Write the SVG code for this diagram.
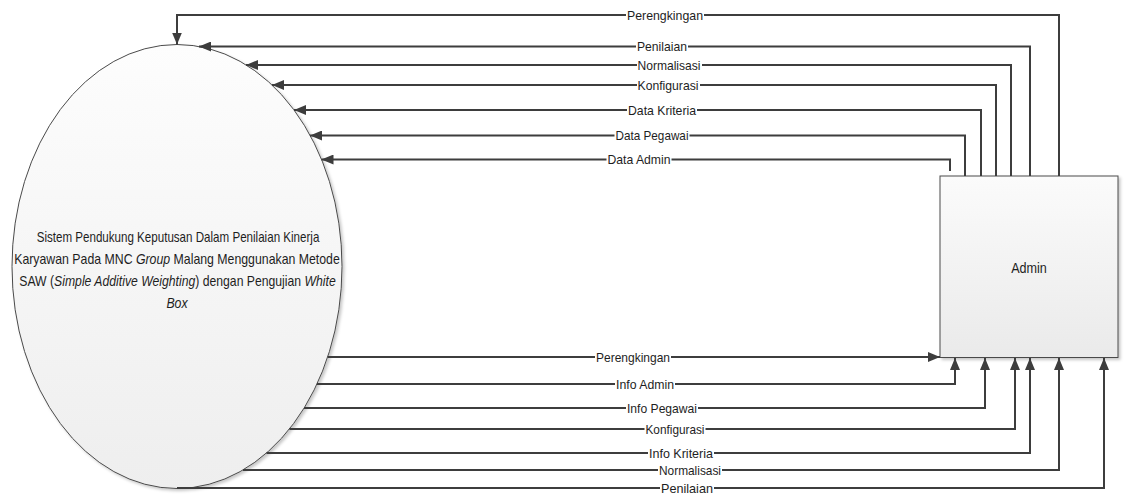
<svg xmlns="http://www.w3.org/2000/svg" width="1125" height="497" viewBox="0 0 1125 497">
  <style>
    .flow { fill: none; stroke: #3d3d3d; stroke-width: 2; }
    .lbl { font-family: "Liberation Sans", Arial, sans-serif; font-size: 13px; fill: #1e1e1e; text-anchor: middle; dominant-baseline: central; }
    .lbg { fill: #ffffff; }
    .ptxt { font-family: "Liberation Sans", Arial, sans-serif; font-size: 14px; fill: #1e1e1e; text-anchor: middle; }
    .it { font-style: italic; }
    .shape { stroke: #4a4a4a; stroke-width: 1; }
  </style>
  <defs>
    <linearGradient id="gProc" x1="0" y1="0" x2="0" y2="1">
      <stop offset="0" stop-color="#fdfdfd"/>
      <stop offset="1" stop-color="#eeeeee"/>
    </linearGradient>
    <linearGradient id="gEnt" x1="0" y1="0" x2="0" y2="1">
      <stop offset="0" stop-color="#fbfbfb"/>
      <stop offset="1" stop-color="#eaeaea"/>
    </linearGradient>
    <filter id="shadow" x="-5%" y="-5%" width="115%" height="115%">
      <feDropShadow dx="2" dy="2" stdDeviation="1.5" flood-color="#000" flood-opacity="0.22"/>
    </filter>
    <marker id="arrow" viewBox="0 0 12 10" refX="12" refY="5" markerWidth="12" markerHeight="10" markerUnits="userSpaceOnUse" orient="auto">
      <path d="M0,0 L12,5 L0,10 Z" fill="#3d3d3d"/>
    </marker>
  </defs>

  <!-- process bubble -->
  <g id="process">
    <ellipse class="shape" cx="177" cy="266.5" rx="165" ry="222" fill="url(#gProc)" filter="url(#shadow)"/>
    <text class="ptxt" transform="translate(178,242) scale(0.828,1)">Sistem Pendukung Keputusan Dalam Penilaian Kinerja</text>
    <text class="ptxt" transform="translate(177,264) scale(0.88,1)">Karyawan Pada MNC <tspan class="it">Group</tspan> Malang Menggunakan Metode</text>
    <text class="ptxt" transform="translate(177.5,286) scale(0.873,1)">SAW (<tspan class="it">Simple Additive Weighting</tspan>) dengan Pengujian <tspan class="it">White</tspan></text>
    <text class="ptxt it" transform="translate(177,307.5) scale(0.88,1)">Box</text>
  </g>

  <!-- external entity -->
  <g id="admin">
    <rect class="shape" x="940" y="176" width="178" height="181.5" fill="url(#gEnt)" filter="url(#shadow)"/>
    <text class="ptxt" transform="translate(1029,272.5) scale(0.9,1)">Admin</text>
  </g>

  <!-- data flows -->
  <g id="connectors">
    <!-- Admin to process -->
    <path class="flow" d="M1059,176 V15 H177 V44.5" marker-end="url(#arrow)"/>
    <path class="flow" d="M1030,176 V46.5 H199" marker-end="url(#arrow)"/>
    <path class="flow" d="M1011,176 V65 H246" marker-end="url(#arrow)"/>
    <path class="flow" d="M996,176 V85 H272" marker-end="url(#arrow)"/>
    <path class="flow" d="M981,176 V110 H294" marker-end="url(#arrow)"/>
    <path class="flow" d="M965,176 V135.5 H310" marker-end="url(#arrow)"/>
    <path class="flow" d="M950,171 V159.5 H321.5" marker-end="url(#arrow)"/>

    <!-- process to Admin -->
    <path class="flow" d="M327.7,357 H940" marker-end="url(#arrow)"/>
    <path class="flow" d="M317,384 H955 V358" marker-end="url(#arrow)"/>
    <path class="flow" d="M304,408 H985 V358" marker-end="url(#arrow)"/>
    <path class="flow" d="M289.4,429 H1015 V358" marker-end="url(#arrow)"/>
    <path class="flow" d="M266.5,453 H1030 V358" marker-end="url(#arrow)"/>
    <path class="flow" d="M243,470 H1059 V358" marker-end="url(#arrow)"/>
    <path class="flow" d="M177,488 H1104 V358" marker-end="url(#arrow)"/>

    <!-- flow labels -->
    <rect class="lbg" x="626" y="8" width="78" height="14"/>
    <text class="lbl" x="665" y="15" textLength="76" lengthAdjust="spacingAndGlyphs">Perengkingan</text>
    <rect class="lbg" x="636" y="39.5" width="52" height="14"/>
    <text class="lbl" x="662" y="46.5" textLength="50" lengthAdjust="spacingAndGlyphs">Penilaian</text>
    <rect class="lbg" x="637" y="58" width="65" height="14"/>
    <text class="lbl" x="669" y="65" textLength="63" lengthAdjust="spacingAndGlyphs">Normalisasi</text>
    <rect class="lbg" x="637" y="78" width="63" height="14"/>
    <text class="lbl" x="668" y="85" textLength="61" lengthAdjust="spacingAndGlyphs">Konfigurasi</text>
    <rect class="lbg" x="627" y="103" width="70" height="14"/>
    <text class="lbl" x="662" y="110" textLength="68" lengthAdjust="spacingAndGlyphs">Data Kriteria</text>
    <rect class="lbg" x="614.5" y="128.5" width="75" height="14"/>
    <text class="lbl" x="652" y="135.5" textLength="73" lengthAdjust="spacingAndGlyphs">Data Pegawai</text>
    <rect class="lbg" x="606.5" y="152.5" width="65" height="14"/>
    <text class="lbl" x="639" y="159.5" textLength="63" lengthAdjust="spacingAndGlyphs">Data Admin</text>

    <rect class="lbg" x="595" y="350" width="76" height="14"/>
    <text class="lbl" x="633" y="357" textLength="74" lengthAdjust="spacingAndGlyphs">Perengkingan</text>
    <rect class="lbg" x="615" y="377" width="60" height="14"/>
    <text class="lbl" x="645" y="384" textLength="58" lengthAdjust="spacingAndGlyphs">Info Admin</text>
    <rect class="lbg" x="626" y="401" width="72" height="14"/>
    <text class="lbl" x="662" y="408" textLength="70" lengthAdjust="spacingAndGlyphs">Info Pegawai</text>
    <rect class="lbg" x="644.5" y="422" width="61" height="14"/>
    <text class="lbl" x="675" y="429" textLength="59" lengthAdjust="spacingAndGlyphs">Konfigurasi</text>
    <rect class="lbg" x="648" y="446" width="66" height="14"/>
    <text class="lbl" x="681" y="453" textLength="64" lengthAdjust="spacingAndGlyphs">Info Kriteria</text>
    <rect class="lbg" x="658" y="463" width="64" height="14"/>
    <text class="lbl" x="690" y="470" textLength="62" lengthAdjust="spacingAndGlyphs">Normalisasi</text>
    <rect class="lbg" x="660" y="481" width="54" height="14"/>
    <text class="lbl" x="687" y="488" textLength="52" lengthAdjust="spacingAndGlyphs">Penilaian</text>
  </g>
</svg>
